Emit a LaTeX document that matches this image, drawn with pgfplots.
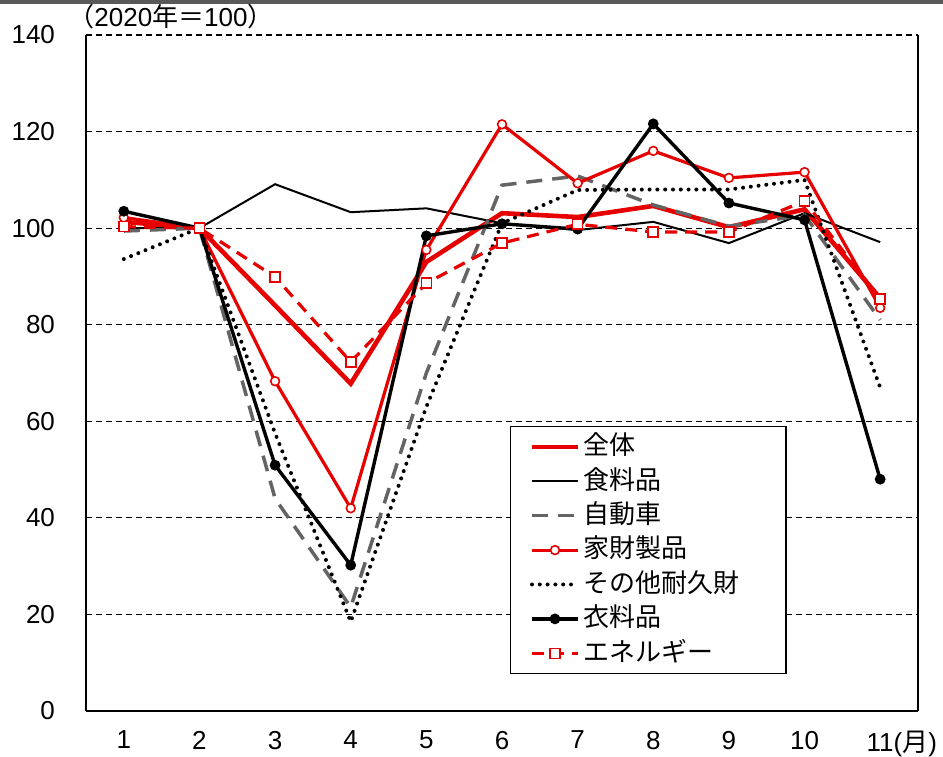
\documentclass[border=0pt]{standalone}
\usepackage{fontspec}
\setmainfont{Liberation Sans}
\newfontfamily\cjk{Noto Sans CJK JP}
\usepackage{pgfplots}
\pgfplotsset{compat=1.18}
\definecolor{jred}{RGB}{230,0,0}
\definecolor{jgray}{RGB}{100,100,100}
\begin{document}
\begin{tikzpicture}
\useasboundingbox (-43pt,-22.5pt) rectangle (428.5pt,355.5pt);
\fill[black!65] (-43pt,353.5pt) rectangle (428.5pt,355.5pt);
\begin{axis}[
  at={(0,0)}, anchor=south west,
  width=416pt, height=338pt, scale only axis,
  xmin=0.5, xmax=11.5, ymin=0, ymax=140,
  axis x line*=bottom, axis y line*=left,
  axis line style={line width=0.8pt},
  xtick={1,...,11},
  xticklabels={1,2,3,4,5,6,7,8,9,10,11\rlap{({\cjk 月})}},
  xtick style={draw=none},
  extra x ticks={1.5,2.5,...,10.5},
  extra x tick labels={},
  extra x tick style={tick style={draw=black, line width=0.6pt}, major tick length=5pt, tick align=inside, xmajorgrids=false},
  ytick={0,20,...,140},
  ytick style={draw=none},
  ymajorgrids,
  grid style={black, line width=0.6pt, dash pattern=on 3pt off 2pt},
  /pgf/number format/assume math mode=true,
  tick label style={font=\fontsize{13}{15}\selectfont},
  yticklabel style={xshift=-12pt},
  xticklabel style={yshift=-6.5pt},
  clip=false,
  legend cell align=left,
  legend style={at={(rel axis cs:0.5096,0.4216)}, anchor=north west,
    draw=black, line width=0.7pt, fill=white,
    font=\fontsize{13}{15}\selectfont\cjk,
    nodes={text height=10.8pt, text depth=3pt, inner sep=1.7pt},
    inner xsep=9.5pt, inner ysep=1.5pt, row sep=0pt},
  legend image code/.code={\draw[mark repeat=2,mark phase=2,#1] plot coordinates {(0pt,0pt) (11.5pt,0pt) (23pt,0pt)};},
]
% 全体
\addplot[jred, line width=2.3pt] coordinates {(1,101.3) (2,100) (3,84) (4,67.8) (5,93) (6,103.1) (7,102.3) (8,104.6) (9,100.2) (10,103.9) (11,85.5)};
\addlegendentry{全体}
% 食料品
\addplot[black, line width=1pt] coordinates {(1,100) (2,100) (3,109.1) (4,103.3) (5,104.1) (6,101) (7,99.6) (8,101.3) (9,96.9) (10,103.1) (11,97.1)};
\addlegendentry{食料品}
% 自動車
\addplot[jgray, line width=1.75pt, dash pattern=on 8pt off 5pt] coordinates {(1,99.4) (2,100) (3,44) (4,21.5) (5,70) (6,108.9) (7,110.8) (8,104.8) (9,100.4) (10,102.7) (11,81)};
\addlegendentry{自動車}
% 家財製品
\addplot[jred, line width=1.6pt, mark=*, mark size=2.2pt, mark options={fill=white, line width=0.8pt, solid}] coordinates {(1,102.2) (2,100) (3,68.3) (4,42) (5,95.5) (6,121.5) (7,109.3) (8,116) (9,110.4) (10,111.6) (11,83.5)};
\addlegendentry{家財製品}
% その他耐久財
\addplot[black, line width=2pt, line cap=round, dash pattern=on 0pt off 3.9pt] coordinates {(1,93.6) (2,100) (3,57.5) (4,18.5) (5,63) (6,101) (7,107.9) (8,108) (9,108) (10,110) (11,67)};
\addlegendentry{その他耐久財\hspace*{12pt}}
% 衣料品
\addplot[black, line width=1.7pt, mark=*, mark size=1.8pt, mark options={fill=black, solid}] coordinates {(1,103.5) (2,100) (3,50.9) (4,30.2) (5,98.4) (6,100.9) (7,99.8) (8,121.6) (9,105.2) (10,101.7) (11,48)};
\addlegendentry{衣料品}
% エネルギー
\addplot[jred, line width=1.6pt, dash pattern=on 6pt off 4pt, mark=square*, mark size=2.5pt, mark options={fill=white, line width=0.8pt, solid}] coordinates {(1,100.3) (2,100) (3,89.9) (4,72.3) (5,88.6) (6,96.9) (7,100.8) (8,99.2) (9,99.2) (10,105.6) (11,85.3)};
\addlegendentry{エネルギー}
\node[anchor=south west, inner sep=0pt, font=\fontsize{13}{15}\selectfont] at ([xshift=-9pt,yshift=3pt]rel axis cs:0,1) {{\cjk （}2020{\cjk 年＝}100{\cjk ）}};
\end{axis}
\draw[line width=0.8pt] (416pt,0pt) -- (416pt,338pt);
\end{tikzpicture}
\end{document}
